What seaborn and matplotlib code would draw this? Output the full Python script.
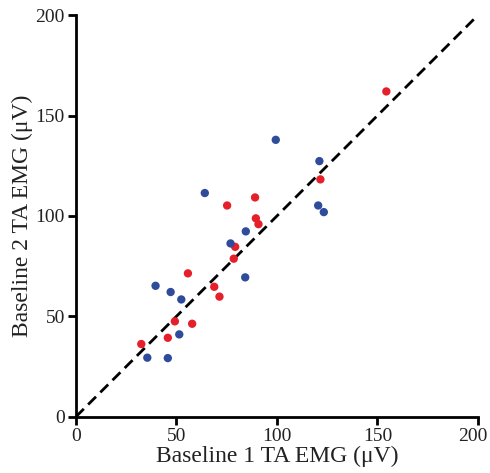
import matplotlib
matplotlib.use("Agg")
import matplotlib.pyplot as plt
import matplotlib.transforms as mtransforms
import seaborn as sns
import pandas as pd

red_x = [154.4, 121.6, 89.1, 75.2, 89.5, 90.8, 79.2, 78.5, 55.7, 68.8, 71.4, 49.2, 57.8, 45.7, 32.5]
red_y = [162.0, 118.2, 109.2, 105.2, 98.8, 95.9, 84.6, 78.7, 71.4, 64.7, 59.8, 47.5, 46.3, 39.3, 36.2]
blue_x = [99.4, 121.1, 64.1, 120.5, 123.3, 84.5, 76.9, 84.2, 39.6, 47.1, 52.4, 51.4, 35.5, 45.7]
blue_y = [137.9, 127.3, 111.4, 105.2, 101.9, 92.3, 86.3, 69.4, 65.2, 62.1, 58.4, 41.0, 29.4, 29.2]
ticks = [0, 50, 100, 150, 200]

df = pd.DataFrame({
    "x": red_x + blue_x,
    "y": red_y + blue_y,
    "group": ["red"] * len(red_x) + ["blue"] * len(blue_x),
})

sns.set_theme(style="ticks")
plt.rcParams["font.family"] = ["Liberation Serif", "DejaVu Serif"]

fig = plt.figure(figsize=(4.9, 4.73), dpi=100)
ax = fig.add_axes([0.155, 0.119, 0.8205, 0.849])

ax.plot([0, 200], [0, 200], color="black", lw=2.0, ls=(0, (4, 2.2)), zorder=1)
sns.scatterplot(data=df, x="x", y="y", hue="group",
                palette={"red": "#e5202a", "blue": "#2e4b9c"},
                s=36, edgecolor="none", legend=False, ax=ax, zorder=3)

ax.set_xlim(0, 200)
ax.set_ylim(0, 200)
ax.set_xticks(ticks)
ax.set_yticks(ticks)
ax.set_xticklabels([str(t) for t in ticks])
ax.set_yticklabels([str(t) for t in ticks])
for s in ["top", "right"]:
    ax.spines[s].set_visible(False)
for s in ["left", "bottom"]:
    ax.spines[s].set_linewidth(2.0)
    ax.spines[s].set_color("black")
ax.tick_params(axis="both", direction="out", length=6, width=2, labelsize=14,
               color="black", labelcolor="#222222", pad=2)
ax.set_xlabel("Baseline 1 TA EMG (\u03bcV)", fontsize=17, color="#222222", labelpad=1)
ax.set_ylabel("Baseline 2 TA EMG (\u03bcV)", fontsize=17, color="#222222", labelpad=2)

# shift the last x tick label left so it stays inside the figure, as in the reference
last = ax.get_xticklabels()[-1]
last.set_transform(last.get_transform() +
                   mtransforms.ScaledTranslation(-5 / 100, 0, fig.dpi_scale_trans))

fig.savefig("out.png", dpi=100)
